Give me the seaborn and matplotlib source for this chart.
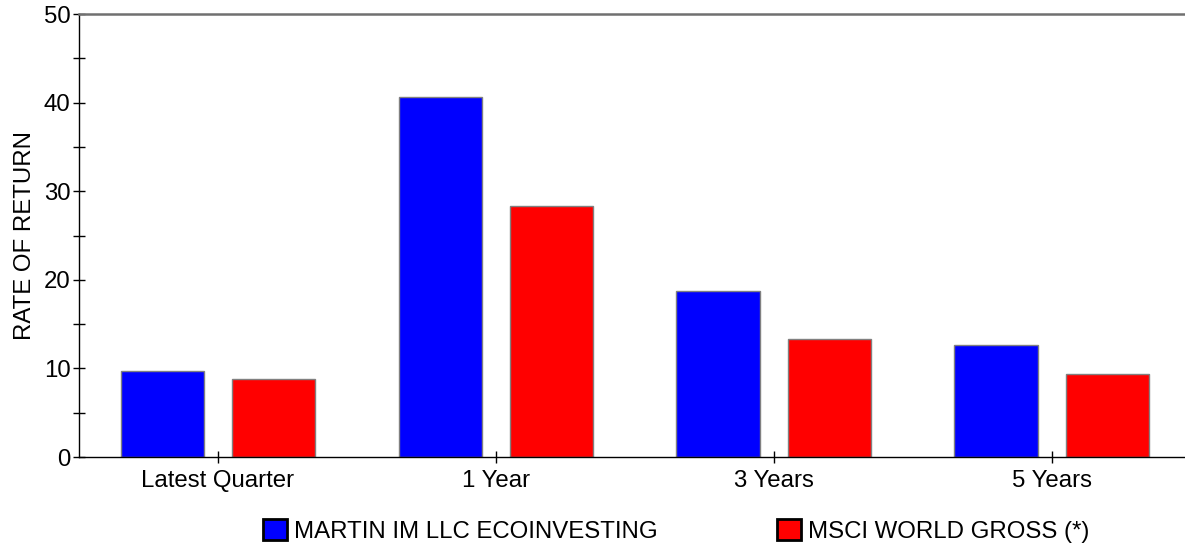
import matplotlib
matplotlib.use("Agg")
import matplotlib.pyplot as plt
import seaborn as sns
import pandas as pd
from matplotlib.patches import Patch

categories = ["Latest Quarter", "1 Year", "3 Years", "5 Years"]
fund_name = "MARTIN IM LLC ECOINVESTING"
index_name = "MSCI WORLD GROSS (*)"
fund_values = [9.7, 40.7, 18.7, 12.6]
index_values = [8.8, 28.3, 13.3, 9.4]

df = pd.DataFrame({
    "period": categories * 2,
    "series": [fund_name] * 4 + [index_name] * 4,
    "value": fund_values + index_values,
})

sns.set_theme(style="white")
plt.rcParams["font.family"] = ["Liberation Sans", "DejaVu Sans"]
plt.rcParams["text.color"] = "black"
plt.rcParams["axes.labelcolor"] = "black"
plt.rcParams["xtick.color"] = "black"
plt.rcParams["ytick.color"] = "black"

fs = 17.3

fig, ax = plt.subplots(figsize=(11.85, 5.46), dpi=100)
fig.subplots_adjust(left=0.0667, right=1.0, top=0.974, bottom=0.163)

palette = {fund_name: "#0000ff", index_name: "#ff0000"}
sns.barplot(data=df, x="period", y="value", hue="series", palette=palette,
            width=0.8, gap=0.25, edgecolor="#808080", linewidth=1,
            saturation=1, legend=False, ax=ax)

ax.set_ylim(0, 50)
ax.set_xlim(-0.5, 3.48)
ax.set_yticks([0, 10, 20, 30, 40, 50])
ax.set_yticks([5, 15, 25, 35, 45], minor=True)
ax.tick_params(axis="y", which="both", direction="inout", length=8, width=1,
               color="black", labelsize=fs, pad=2, left=True)
ax.tick_params(axis="x", direction="inout", length=9, width=1, color="black",
               labelsize=fs, pad=5, bottom=True)
ax.set_xlabel("")
ax.set_ylabel("RATE OF RETURN", fontsize=fs, labelpad=6)

for s in ["left", "bottom"]:
    ax.spines[s].set_color("black")
    ax.spines[s].set_linewidth(1)
ax.spines["right"].set_visible(False)
ax.spines["top"].set_color("#707070")
ax.spines["top"].set_linewidth(1.8)

handles = [Patch(facecolor="#0000ff", edgecolor="black", linewidth=2),
           Patch(facecolor="#ff0000", edgecolor="black", linewidth=2)]
fig.legend(handles, [fund_name, index_name], loc="lower center",
           bbox_to_anchor=(0.5705, -0.034), ncol=2, frameon=False, fontsize=fs,
           handlelength=1.0, handleheight=1.0, handletextpad=0.3,
           columnspacing=4.95)

fig.savefig("out.png", dpi=100)
